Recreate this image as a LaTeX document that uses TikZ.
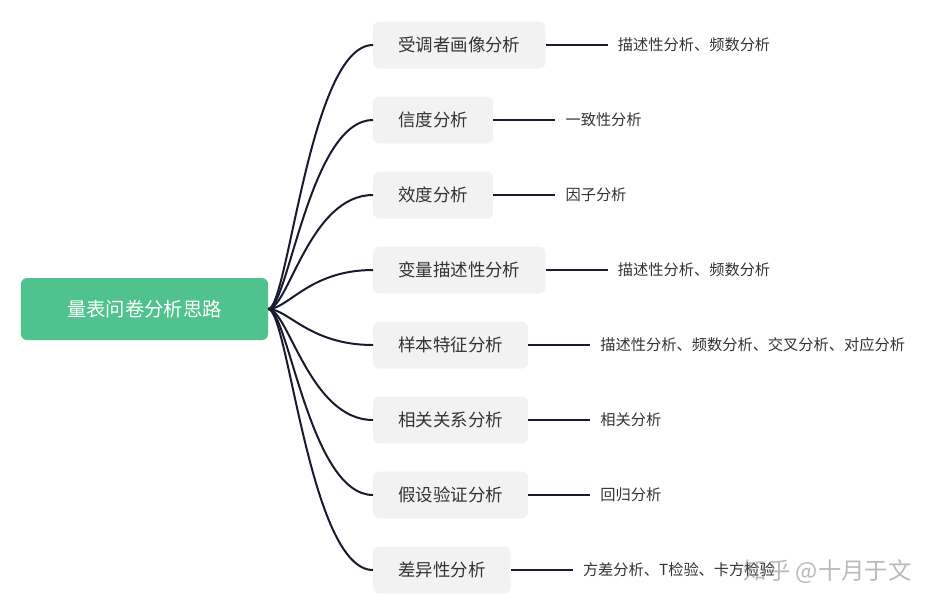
\documentclass[tikz,border=0pt]{standalone}
\usepackage{fontspec}
\newfontfamily\cjk{Noto Sans CJK SC}
\usepackage{xcolor}
\usepackage{tikz}
\usetikzlibrary{positioning}

\definecolor{rootgreen}{HTML}{4FC28D}
\definecolor{boxgray}{HTML}{F2F2F2}
\definecolor{linkdark}{HTML}{1A1A2E}
\definecolor{txtdark}{HTML}{333333}

\begin{document}
\begin{tikzpicture}[
        x=0.03cm, y=-0.03cm,
        root/.style={fill=rootgreen, rounded corners=0.18cm, minimum width=7.41cm,
                     minimum height=1.86cm, text=white, font=\cjk\fontsize{16.5}{20}\selectfont},
        topic/.style={fill=boxgray, rounded corners=0.18cm, minimum height=1.41cm,
                      inner xsep=0.75cm, text=txtdark, anchor=west,
                      font=\cjk\fontsize{14.9}{18}\selectfont},
        leaf/.style={right=1.86cm of #1, inner xsep=0.3cm, text=txtdark,
                     font=\cjk\fontsize{13}{15}\selectfont},
        branch/.style={line width=1.7pt, draw=linkdark},
        twig/.style={line width=1.7pt, draw=linkdark}
    ]
        \useasboundingbox (0,0) rectangle (935,610);

        % ── Root ─────────────────────────────────────────────────────────
        \node[root] (root) at (144.5, 309) {量表问卷分析思路};

        % ── Topic column (x = 373) ───────────────────────────────────────
        \node[topic] (portrait) at (373,  45) {受调者画像分析};
        \node[topic] (reliab)   at (373, 120) {信度分析};
        \node[topic] (valid)    at (373, 195) {效度分析};
        \node[topic] (descr)    at (373, 270) {变量描述性分析};
        \node[topic] (sample)   at (373, 345) {样本特征分析};
        \node[topic] (correl)   at (373, 420) {相关关系分析};
        \node[topic] (hypo)     at (373, 495) {假设验证分析};
        \node[topic] (differ)   at (373, 570) {差异性分析};

        % ── Curved branches root -> topics ───────────────────────────────
        \foreach \t in {portrait, reliab, valid, descr, sample, correl, hypo, differ}
            \draw[branch] (root.east) .. controls +(0.6cm,0) and +(-1.9cm,0) .. (\t.west);

        % ── Leaf methods ─────────────────────────────────────────────────
        \node[leaf=portrait] (portraitm) {描述性分析、频数分析};
        \node[leaf=reliab]   (reliabm)   {一致性分析};
        \node[leaf=valid]    (validm)    {因子分析};
        \node[leaf=descr]    (descrm)    {描述性分析、频数分析};
        \node[leaf=sample]   (samplem)   {描述性分析、频数分析、交叉分析、对应分析};
        \node[leaf=correl]   (correlm)   {相关分析};
        \node[leaf=hypo]     (hypom)     {回归分析};
        \node[leaf=differ]   (differm)   {方差分析、T检验、卡方检验};

        \draw[twig] (portrait.east) -- (portraitm.west);
        \draw[twig] (reliab.east)   -- (reliabm.west);
        \draw[twig] (valid.east)    -- (validm.west);
        \draw[twig] (descr.east)    -- (descrm.west);
        \draw[twig] (sample.east)   -- (samplem.west);
        \draw[twig] (correl.east)   -- (correlm.west);
        \draw[twig] (hypo.east)     -- (hypom.west);
        \draw[twig] (differ.east)   -- (differm.west);

        % ── Watermark (overlaps the last leaf, as in the source) ─────────
        \node[anchor=east, text=gray, opacity=0.55, inner sep=0pt,
              font=\cjk\fontsize{20}{24}\selectfont] (mark) at (912, 572) {知乎 @十月于文};
    \end{tikzpicture}
\end{document}
